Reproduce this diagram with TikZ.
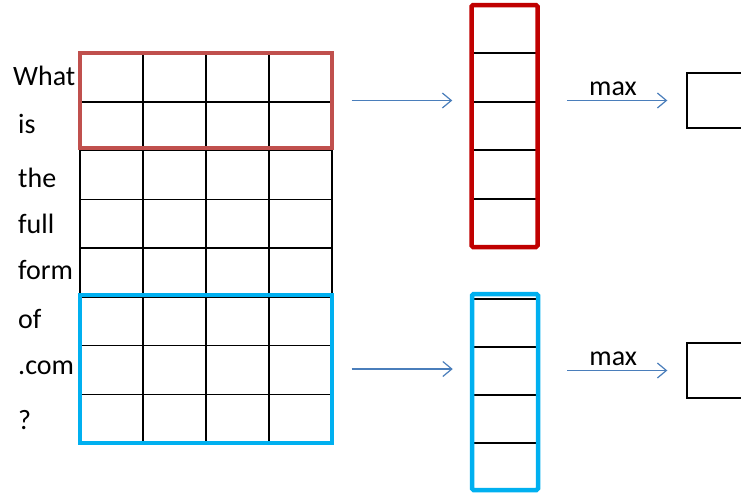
\documentclass[tikz,border=0pt]{standalone}
\usepackage{fontspec}
\setmainfont{Carlito}
\usetikzlibrary{arrows.meta, positioning, calc}
\definecolor{winRed}{HTML}{C0504D}
\definecolor{vecRed}{HTML}{C00000}
\definecolor{winBlue}{HTML}{00B0F0}
\definecolor{arrBlue}{HTML}{4A7EBB}
\tikzset{
  word/.style={anchor=base west, inner sep=0pt, font=\fontsize{28}{33}\selectfont},
  cellline/.style={draw=black, line width=1.5pt},
  window/.style={draw, line width=3.2pt, minimum width=252pt, inner sep=0pt},
  vecbox/.style={draw, line width=4.5pt, rounded corners=1.5pt, minimum width=66pt, inner sep=0pt},
  outbox/.style={draw=black, line width=1.4pt, minimum width=60pt, minimum height=55pt, inner sep=0pt},
  arr/.style={-{Straight Barb[length=9pt, width=15pt, line width=1.2pt]}, draw=arrBlue, line width=1.2pt},
}
\begin{document}
\begin{tikzpicture}[x=1pt, y=-1pt]
  \useasboundingbox (0,0) rectangle (741,493);
  \clip (0,0) rectangle (741,493);
  % the words of the sentence, one per row
  \foreach \x/\y/\w [count=\i] in {13/85/What, 18/133/is, 18/187/the, 18/233/full,
      18/279/form, 18/328/of, 18/374/.com, 18/429/?} {
    \node[word] (w\i) at (\x,\y) {\w};
  }
  % embedding matrix, 8 rows x 4 columns
  \foreach \c in {0,...,4} { \draw[cellline] (80+\c*63,53) -- (80+\c*63,443); }
  \foreach \r in {0,...,8} { \draw[cellline] (80,53+\r*48.75) -- (332,53+\r*48.75); }
  % filter windows
  \node[window, draw=winRed, minimum height=95pt] (redwin) at (206,100.5) {};
  \node[window, draw=winBlue, minimum height=148pt] (bluewin) at (206,369) {};
  % feature maps
  \foreach \y in {53,102,150,199} { \draw[cellline] (472,\y) -- (537,\y); }
  \foreach \y in {299,347,395,443} { \draw[cellline] (472,\y) -- (537,\y); }
  \node[vecbox, draw=vecRed, minimum height=242pt] (redvec) at (504.5,126) {};
  \node[vecbox, draw=winBlue, minimum height=196pt] (bluevec) at (505,392) {};
  % pooled outputs
  \node[outbox] (outA) at (717,100.5) {};
  \node[outbox] (outB) at (717,370.5) {};
  % arrows
  \draw[arr, shorten <=18pt, shorten >=17pt] (redwin.east) -- (redwin.east -| redvec.west);
  \draw[arr, shorten <=18pt, shorten >=17pt] (bluewin.east) -- (bluewin.east -| bluevec.west);
  \draw[arr, shorten <=27pt, shorten >=19pt] (outA.west -| redvec.east) --
    node[word, anchor=base, yshift=5pt] (maxA) {max} (outA.west);
  \draw[arr, shorten <=27pt, shorten >=19pt] (outB.west -| bluevec.east) --
    node[word, anchor=base, yshift=5pt] (maxB) {max} (outB.west);
\end{tikzpicture}
\end{document}
